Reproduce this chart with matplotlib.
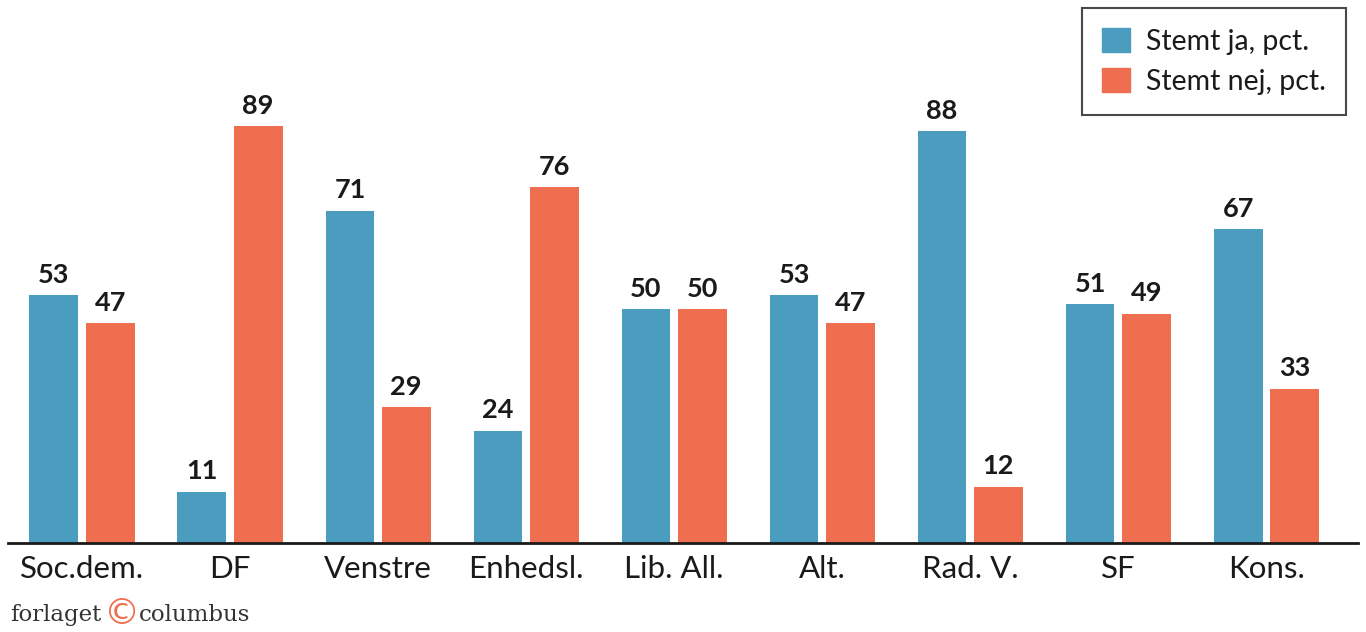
"""Vote split per party: yes vs. no share, grouped bars."""

import numpy as np
import matplotlib
matplotlib.use("Agg")
import matplotlib.pyplot as plt
from matplotlib.patches import Patch

parties = ["Soc.dem.", "DF", "Venstre", "Enhedsl.", "Lib. All.",
           "Alt.", "Rad. V.", "SF", "Kons."]
yes_pct = [53, 11, 71, 24, 50, 53, 88, 51, 67]
no_pct = [47, 89, 29, 76, 50, 47, 12, 49, 33]

BLUE = "#4b9dc0"
ORANGE = "#ef6e4f"
TEXT = "#1a1a1a"

plt.rcParams["font.family"] = ["Lato", "DejaVu Sans"]

fig = plt.figure(figsize=(13.66, 6.32), dpi=100)
ax = fig.add_axes([8 / 1366, 89 / 632, 1350 / 1366, 543 / 632])

x = np.arange(len(parties))
w = 0.33
off = 0.19
b1 = ax.bar(x - off, yes_pct, w, color=BLUE, label="Stemt ja, pct.")
b2 = ax.bar(x + off, no_pct, w, color=ORANGE, label="Stemt nej, pct.")

for bars in (b1, b2):
    ax.bar_label(bars, padding=6, fontsize=19.5, fontweight="bold", color=TEXT)

ax.set_xlim(-0.5, 8.62)
ax.set_ylim(0, 116)
ax.set_xticks(x)
ax.set_xticklabels(parties, fontsize=22.5, color=TEXT)
ax.tick_params(axis="x", length=0, pad=9)
ax.set_yticks([])
for side in ("top", "right", "left"):
    ax.spines[side].set_visible(False)
ax.spines["bottom"].set_linewidth(2)
ax.spines["bottom"].set_color(TEXT)

handles = [Patch(color=BLUE), Patch(color=ORANGE)]
leg = ax.legend(handles, ["Stemt ja, pct.", "Stemt nej, pct."],
                loc="upper right", bbox_to_anchor=(1338 / 1350, 1 - 8 / 543),
                fontsize=20.5, frameon=True, fancybox=False, borderpad=0.7,
                handlelength=1.0, handleheight=0.95, handletextpad=0.55,
                labelspacing=0.45, borderaxespad=0)
leg.get_frame().set_edgecolor(TEXT)
leg.get_frame().set_linewidth(1.5)
for t in leg.get_texts():
    t.set_color(TEXT)

# publisher mark bottom left
fig.text(10 / 1366, 11 / 632, "forlaget", family="DejaVu Serif",
         fontsize=16.5, color="#333333", va="baseline")
fig.text(104 / 1366, 17.5 / 632, "\u00a9", family="DejaVu Sans",
         fontsize=26, color=ORANGE, va="center")
fig.text(139 / 1366, 11 / 632, "columbus", family="DejaVu Serif",
         fontsize=16.5, color="#333333", va="baseline")

plt.savefig("out.png", dpi=100)
